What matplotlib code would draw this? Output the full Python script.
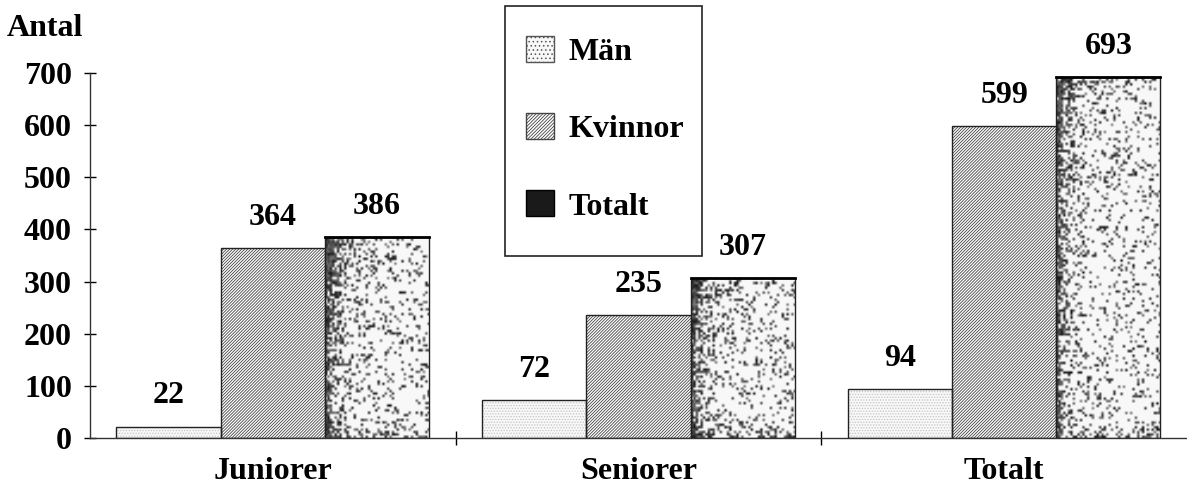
import numpy as np
import matplotlib
matplotlib.use("Agg")
import matplotlib.pyplot as plt
from matplotlib.patches import Patch, Rectangle

plt.rcParams['font.family'] = ['Liberation Serif', 'DejaVu Serif']
plt.rcParams['font.weight'] = 'bold'
plt.rcParams['hatch.linewidth'] = 0.6

groups = ['Juniorer', 'Seniorer', 'Totalt']
series = ['Män', 'Kvinnor', 'Totalt']
man = [22, 72, 94]
kvinnor = [364, 235, 599]
totalt = [386, 307, 693]

FS = 23

fig = plt.figure(figsize=(11.87, 4.95), dpi=100)
ax = fig.add_axes([0.0758, 0.1152, 0.9242, 0.7373])

x = np.arange(len(groups))
w = 0.285

# Män: light stipple
ax.bar(x - w, man, w, color='#f8f8f8', hatch='......', edgecolor='#c4c4c4', linewidth=0, zorder=2)
ax.bar(x - w, man, w, fill=False, edgecolor='#222222', linewidth=1.0, zorder=3)

# Kvinnor: diagonal hatch
ax.bar(x, kvinnor, w, color='white', hatch='/' * 11, edgecolor='#444444', linewidth=0, zorder=2)
ax.bar(x, kvinnor, w, fill=False, edgecolor='#222222', linewidth=1.0, zorder=3)

# Totalt: speckled texture, darker at the left edge and at the top
tot_bars = ax.bar(x + w, totalt, w, color='white', edgecolor='none', zorder=2)
rng = np.random.default_rng(3)
for b, h in zip(tot_bars, totalt):
    ncol = 44
    nrow = int(h * 0.22)
    xf = np.linspace(0, 1, ncol)[None, :]
    yv = np.linspace(h, 0, nrow)[:, None]
    p = (0.14 + 0.75 * np.exp(-xf / 0.08)
         + 0.6 * np.exp(-(h - yv) / 70.0) * np.exp(-xf / 0.3)
         + 0.35 * np.exp(-yv / 15.0))
    p = np.clip(p, 0, 0.95)
    r = rng.random((nrow, ncol))
    img = np.where(r < p, 0.08 + 0.4 * rng.random((nrow, ncol)), 0.97)
    im = ax.imshow(img, cmap='gray', vmin=0, vmax=1, aspect='auto',
                   interpolation='bilinear', zorder=2,
                   extent=[b.get_x(), b.get_x() + b.get_width(), 0, h])
    im.set_clip_path(b)
ax.bar(x + w, totalt, w, fill=False, edgecolor='#222222', linewidth=1.0, zorder=3)
for xi, h in zip(x, totalt):
    ax.plot([xi + w / 2, xi + 1.5 * w], [h, h], color='black', lw=2, zorder=4)

# value labels
for offs, vals in zip([-w, 0, w], [man, kvinnor, totalt]):
    for xi, v in zip(x, vals):
        ax.annotate(str(v), (xi + offs, v), xytext=(0, 22), textcoords='offset points',
                    ha='center', va='center', fontsize=FS, fontweight='bold')

ax.set_xlim(-0.5, 2.5)
ax.set_ylim(0, 700)
ax.set_yticks(range(0, 701, 100))
ax.tick_params(axis='y', direction='inout', length=8, width=1, pad=9, labelsize=FS)
ax.set_xticks(x)
ax.set_xticklabels(groups)
ax.tick_params(axis='x', which='major', length=0, pad=14, labelsize=FS)
ax.set_xticks([0.5, 1.5], minor=True)
ax.tick_params(axis='x', which='minor', direction='inout', length=10, width=1)
for s in ['top', 'right']:
    ax.spines[s].set_visible(False)
ax.spines['left'].set_bounds(0, 700)
for s in ['left', 'bottom']:
    ax.spines[s].set_linewidth(1.0)
    ax.spines[s].set_color('#333333')

fig.text(0.006, 1 - 28 / 495, 'Antal', fontsize=FS, fontweight='bold', va='center')

# legend box
fig.patches.append(Rectangle((505 / 1187, 1 - 256 / 495), 197 / 1187, 250 / 495,
                             transform=fig.transFigure, fill=False,
                             edgecolor='#222222', linewidth=1.2))
handles = [
    Patch(facecolor='#f8f8f8', edgecolor='#555555', hatch='....', label=series[0]),
    Patch(facecolor='white', edgecolor='#444444', hatch='/' * 10, label=series[1]),
    Patch(facecolor='#1a1a1a', edgecolor='black', label=series[2]),
]
leg = fig.legend(handles=handles, loc='upper left', bbox_to_anchor=(505 / 1187, 1 - 15 / 495),
                 fontsize=FS, frameon=False,
                 handlelength=0.875, handleheight=0.875, handletextpad=0.45,
                 labelspacing=1.45, borderpad=0.65, borderaxespad=0)

fig.savefig('out.png', dpi=100)
